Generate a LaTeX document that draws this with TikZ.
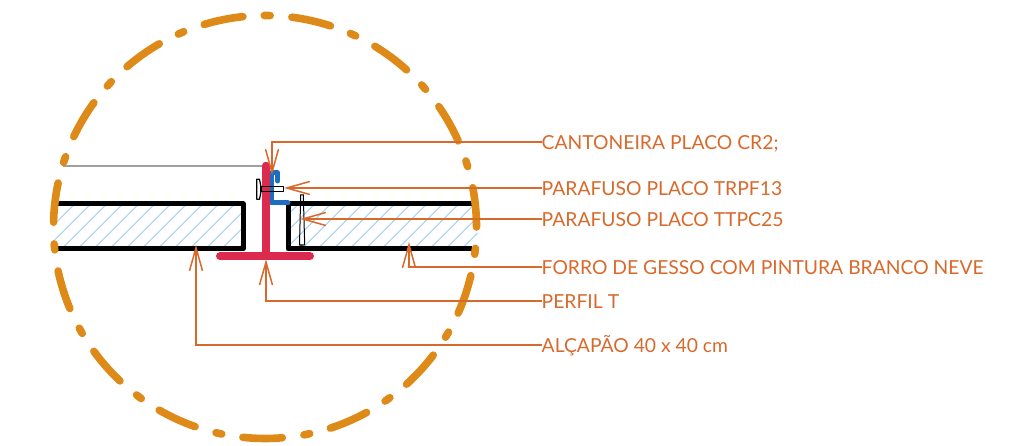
\documentclass[tikz,border=0pt]{standalone}
\usepackage{fontspec}
\setmainfont{Lato}
\usetikzlibrary{arrows.meta}

\definecolor{ringcolor}{HTML}{DE8A18}
\definecolor{leadercolor}{HTML}{D9692B}
\definecolor{perfilcolor}{HTML}{DC2A4E}
\definecolor{cantocolor}{HTML}{1C6EC0}
\definecolor{hatchcolor}{HTML}{A9D2F3}

\tikzset{
    ring/.style={ringcolor, line width=7.6pt, line cap=round},
    leader/.style={leadercolor, line width=1.5pt, -{Straight Barb[length=23pt,width=13pt]}},
    callout/.style={anchor=west, inner sep=0pt, text=leadercolor, font=\fontsize{19.3}{20}\selectfont, text height=15pt, text depth=0pt},
    panel/.style={black, line width=5pt, line join=round},
    screw/.style={black, line width=1.2pt, line join=round}
}

\begin{document}
\begin{tikzpicture}[x=1pt,y=1pt]
    \useasboundingbox (0,0) rectangle (1011,446);

    % Define coordinates
    \coordinate (O) at (265,219);
    \coordinate (tipCant) at (272,271);
    \coordinate (tipTrpf) at (284,258);
    \coordinate (tipTtpc) at (300,227);
    \coordinate (tipForro) at (409,204);
    \coordinate (tipPerfil) at (266,186.7);
    \coordinate (tipAlcapao) at (196,201);

    % Hatching of the two plates
    \begin{scope}
        \clip (53,197) rectangle (243,242);
        \foreach \x in {13.7,29.7,...,245}
            \draw[hatchcolor, line width=1.1pt] (\x,197) -- ++(45,45);
    \end{scope}
    \begin{scope}
        \clip (288,197) rectangle (477.5,242);
        \foreach \x in {253.7,269.7,...,480}
            \draw[hatchcolor, line width=1.1pt] (\x,197) -- ++(45,45);
    \end{scope}

    % Gray line
    \draw[gray!75, line width=1.6pt] (63,280) -- (262,280);

    % Plates
    \draw[panel] (57,242) -- (243,242) -- (243,197) -- (57,197);
    \draw[panel] (472,242) -- (288,242) -- (288,197) -- (472,197);

    % Cantoneira
    \draw[cantocolor, line width=5pt, line cap=round, line join=round]
        (277.7,265) -- (277.7,273) -- (271.5,273) -- (271.5,243) -- (288,243);

    % Perfil T
    \draw[perfilcolor, line width=7.5pt, line cap=round] (266,280.5) -- (266,189.7);
    \draw[perfilcolor, line width=8pt, line cap=round] (220,189.7) -- (310,189.7);

    % Screws
    \draw[screw, fill=white] (256.7,266.7) -- (259.5,266.7) -- (261,259.3) -- (261,254.3)
        -- (259.5,246.7) -- (256.7,246.7) -- cycle;
    \draw[screw] (261,259.3) rectangle (283.3,254.3);
    \draw[black, line width=1pt] (300.7,251) -- (303.3,251) -- (304.7,201) -- (299.5,201) -- cycle;
    \fill[black] (295,197) .. controls (297,202) and (306,202) .. (308,197) -- cycle;

    % Circle
    \foreach \a in {0,...,14} {
        \draw[ring] (O) ++(168+24*\a:211.5) arc (168+24*\a:178.7+24*\a:211.5);
        \draw[ring] (O) ++(184.6+24*\a:211.5) arc (184.6+24*\a:186.2+24*\a:211.5);
    }

    % Labels
    \node[callout] (lblCant) at (541.5,304) {CANTONEIRA PLACO CR2;};
    \node[callout] (lblTrpf) at (541.5,258) {PARAFUSO PLACO TRPF13};
    \node[callout] (lblTtpc) at (541.5,227) {PARAFUSO PLACO TTPC25};
    \node[callout] (lblForro) at (541.5,179) {FORRO DE GESSO COM PINTURA BRANCO NEVE};
    \node[callout] (lblPerfil) at (541.5,145) {PERFIL T};
    \node[callout] (lblAlcapao) at (541.5,101) {ALÇAPÃO 40 x 40 cm};

    % Leaders
    \draw[leader] (lblCant.west) -| (tipCant);
    \draw[leader] (lblTrpf.west) -- (tipTrpf);
    \draw[leader] (lblTtpc.west) -- (tipTtpc);
    \draw[leader] (lblForro.west) -| (tipForro);
    \draw[leader] (lblPerfil.west) -| (tipPerfil);
    \draw[leader] (lblAlcapao.west) -| (tipAlcapao);
\end{tikzpicture}
\end{document}
